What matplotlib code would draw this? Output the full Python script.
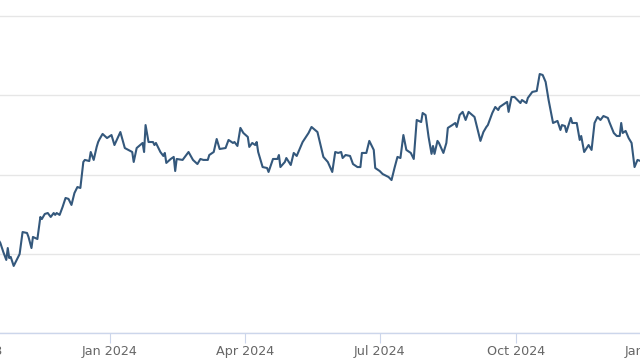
import numpy as np
import matplotlib
matplotlib.use("Agg")
import matplotlib.pyplot as plt
import matplotlib.dates as mdates

# Days relative to 2024-01-01 and the series value on that day
base_date = np.datetime64("2024-01-01")
day_offsets = [
    -76, -74, -72, -70, -69, -68, -67, -65, -64, -61, -59, -56, -55, -53, -52, -49, -47, -46, -44, -42,
    -40, -38, -37, -36, -34, -32, -30, -28, -26, -24, -22, -20, -18, -17, -14, -13, -11, -9, -8, -7,
    -5, -2, 1, 3, 7, 10, 15, 16, 18, 22, 23, 24, 26, 29, 30, 31, 34, 36, 37, 38,
    41, 43, 44, 45, 49, 53, 56, 59, 61, 63, 66, 67, 70, 72, 74, 78, 80, 83, 84, 86,
    88, 90, 93, 94, 96, 98, 99, 100, 103, 106, 107, 110, 113, 114, 115, 118, 119, 122, 124, 126,
    130, 134, 136, 140, 144, 147, 150, 152, 154, 156, 157, 159, 162, 164, 167, 169, 170, 173, 175, 178,
    179, 182, 184, 188, 190, 192, 194, 196, 198, 200, 203, 205, 207, 210, 211, 213, 215, 217, 218, 219,
    221, 222, 225, 227, 228, 231, 233, 234, 236, 238, 240, 242, 246, 250, 252, 254, 255, 258, 260, 262,
    263, 267, 268, 269, 271, 273, 277, 278, 281, 282, 285, 288, 290, 292, 294, 296, 299, 302, 304, 305,
    307, 308, 311, 312, 315, 317, 318, 320, 323, 325, 327, 329, 331, 333, 336, 337, 340, 342, 344, 345,
    346, 348, 350, 352, 354, 356, 358, 360,
]
values = [
    60.0, 56.8, 51.1, 46.1, 53.6, 47.3, 48.0, 42.3, 44.2, 49.8, 63.7, 63.1, 60.6, 53.6, 60.6, 59.3, 73.2, 71.9, 75.1, 75.7,
    73.2, 75.7, 74.5, 75.7, 74.5, 79.5, 85.2, 84.6, 80.8, 88.3, 92.1, 91.5, 107.9, 109.2, 108.5, 114.2, 109.2, 117.4, 120.5, 122.4,
    125.6, 123.0, 124.9, 118.6, 126.8, 116.7, 114.2, 107.9, 116.7, 119.9, 114.2, 131.2, 120.5, 120.5, 118.6, 119.9, 114.2, 111.7, 113.6, 107.3,
    109.8, 111.1, 102.2, 109.8, 109.2, 114.2, 109.2, 106.6, 109.8, 109.2, 109.2, 112.3, 114.2, 122.4, 116.1, 116.7, 121.8, 119.9, 120.5, 118.0,
    129.4, 126.2, 123.7, 117.4, 119.9, 118.6, 120.5, 114.2, 104.7, 104.1, 101.6, 109.8, 109.8, 112.3, 104.7, 107.9, 110.4, 106.0, 113.6, 111.7,
    120.5, 126.2, 130.0, 126.8, 111.1, 107.9, 101.6, 114.2, 113.6, 114.2, 110.4, 112.3, 111.7, 106.6, 104.7, 104.7, 113.6, 113.6, 121.2, 115.5,
    104.1, 102.2, 100.3, 98.4, 96.5, 104.1, 111.1, 110.4, 124.9, 115.5, 113.6, 109.8, 134.4, 133.1, 138.8, 137.5, 123.7, 113.0, 118.0, 113.0,
    121.2, 119.9, 113.6, 119.9, 129.4, 131.2, 132.5, 130.0, 137.6, 139.5, 134.4, 139.5, 136.3, 121.2, 126.8, 130.0, 131.2, 138.8, 142.6, 140.7,
    142.6, 145.1, 145.8, 139.5, 148.9, 148.9, 145.1, 147.0, 145.1, 148.3, 152.1, 152.7, 163.4, 162.8, 158.4, 147.0, 132.5, 133.8, 128.1, 131.2,
    130.6, 126.8, 135.7, 132.5, 132.5, 121.8, 124.3, 114.2, 118.6, 115.5, 132.5, 136.3, 134.4, 136.9, 135.7, 133.1, 126.2, 124.3, 124.3, 132.5,
    126.2, 127.5, 123.0, 119.9, 104.7, 109.2, 108.5, 108.0,
]
grid_values = [0, 50, 100, 150, 200]

dates = base_date + np.array(day_offsets).astype("timedelta64[D]")

fig = plt.figure(figsize=(6.4, 3.6), dpi=100)
px_per_day = 406 / 274.0
left_px, right_px = -64, 704
ax = fig.add_axes([left_px / 640, 0.075, (right_px - left_px) / 640, 0.925])

ax.plot(dates, values, color="#34587c", linewidth=1.5, solid_joinstyle="round")

d0 = mdates.date2num(base_date)
ax.set_xlim(d0 + (left_px - 110) / px_per_day, d0 + (right_px - 110) / px_per_day)
ax.set_ylim(0, 210.1)

ax.set_yticks(grid_values)
ax.yaxis.grid(True, color="#e6e6e6", linewidth=1.0)
ax.tick_params(axis="y", left=False, labelleft=False)

ax.xaxis.set_major_locator(mdates.MonthLocator(bymonth=[1, 4, 7, 10]))
ax.xaxis.set_major_formatter(mdates.DateFormatter("%b %Y"))
ax.tick_params(axis="x", length=7.2, width=0.8, color="#ccd6eb", labelcolor="#666666",
               labelsize=9.2, pad=1.5)

for s in ["top", "left", "right"]:
    ax.spines[s].set_visible(False)
ax.spines["bottom"].set_color("#ccd6eb")
ax.spines["bottom"].set_linewidth(1.0)
ax.set_axisbelow(True)

fig.savefig("out.png", dpi=100)
